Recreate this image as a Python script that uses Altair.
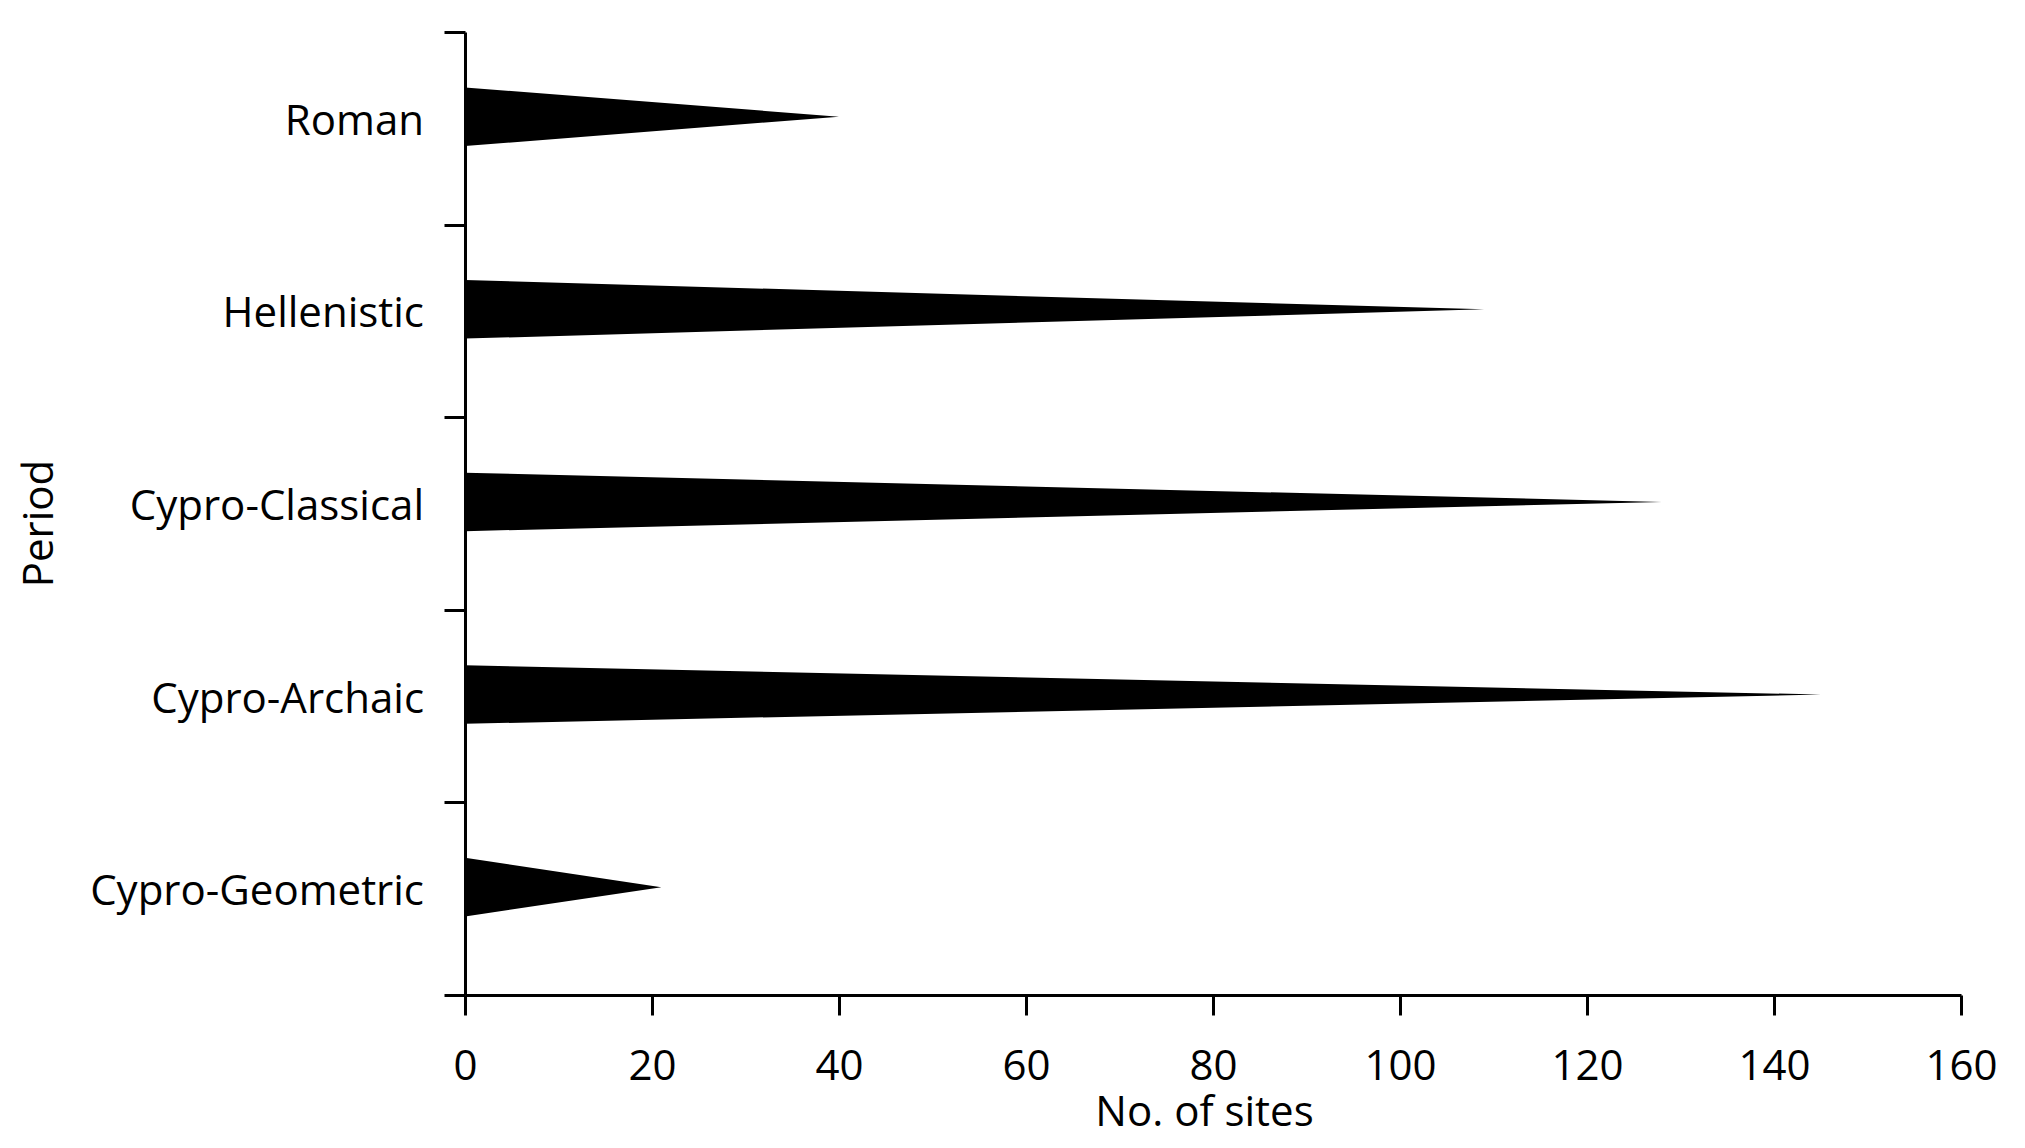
import altair as alt
import pandas as pd

# Data (bottom to top)
periods = ["Cypro-Geometric", "Cypro-Archaic", "Cypro-Classical", "Hellenistic", "Roman"]
sites = [21, 145, 128, 109, 40]
x_ticks = [0, 20, 40, 60, 80, 100, 120, 140, 160]

# layout constants (in band units)
CENTER = 0.56
HALF = 0.152
FONT = "Open Sans"
FS = 42

rows = []
for i, (p, v) in enumerate(zip(periods, sites)):
    c = i + CENTER
    rows.append({"period": p, "pos": c - HALF, "n": 0})
    rows.append({"period": p, "pos": c, "n": v})
    rows.append({"period": p, "pos": c + HALF, "n": 0})
tri = pd.DataFrame(rows)
labels = pd.DataFrame({"period": periods, "pos": [i + CENTER for i in range(len(periods))]})

W, H = 1496, 963

xscale = alt.Scale(domain=[0, 160], nice=False, zero=True)
yscale = alt.Scale(domain=[0, len(periods)], nice=False, zero=True)

xaxis = alt.Axis(
    values=x_ticks, grid=False, tickSize=20, tickWidth=3, tickColor="black",
    domainColor="black", domainWidth=3, labelFont=FONT, labelFontSize=FS,
    labelColor="black", labelPadding=51, labelBaseline="middle", labelFlush=False,
    title="No. of sites", titleFont=FONT, titleFontSize=FS, titleFontWeight="normal",
    titleColor="black", titleX=739, titleY=117, titleBaseline="middle", titleAlign="center",
)
yaxis = alt.Axis(
    values=list(range(len(periods) + 1)), grid=False, labels=False, tickSize=21,
    tickWidth=3, tickColor="black", domainColor="black", domainWidth=3,
    title="Period", titleFont=FONT, titleFontSize=FS, titleFontWeight="normal",
    titleColor="black", titleX=-426, titleY=491, titleAngle=-90,
    titleBaseline="middle", titleAlign="center",
)

area = alt.Chart(tri).mark_area(orient="horizontal", color="black", fill="black",
                                 interpolate="linear").encode(
    y=alt.Y("pos:Q", scale=yscale, axis=yaxis, sort=None),
    x=alt.X("n:Q", scale=xscale, axis=xaxis),
    x2=alt.datum(0),
    detail="period:N",
)

text = alt.Chart(labels).mark_text(
    align="right", baseline="middle", dx=-41, dy=5, font=FONT, fontSize=FS, color="black"
).encode(
    x=alt.value(0),
    y=alt.Y("pos:Q", scale=yscale),
    text="period:N",
)

chart = (area + text).properties(
    width=W, height=H,
    autosize=alt.AutoSizeParams(type="none"),
    padding={"left": 457, "top": 24, "right": 50, "bottom": 150},
).configure(background="white").configure_view(stroke=None)

chart.save("out.html", embed_options={"renderer": "svg", "actions": False})
